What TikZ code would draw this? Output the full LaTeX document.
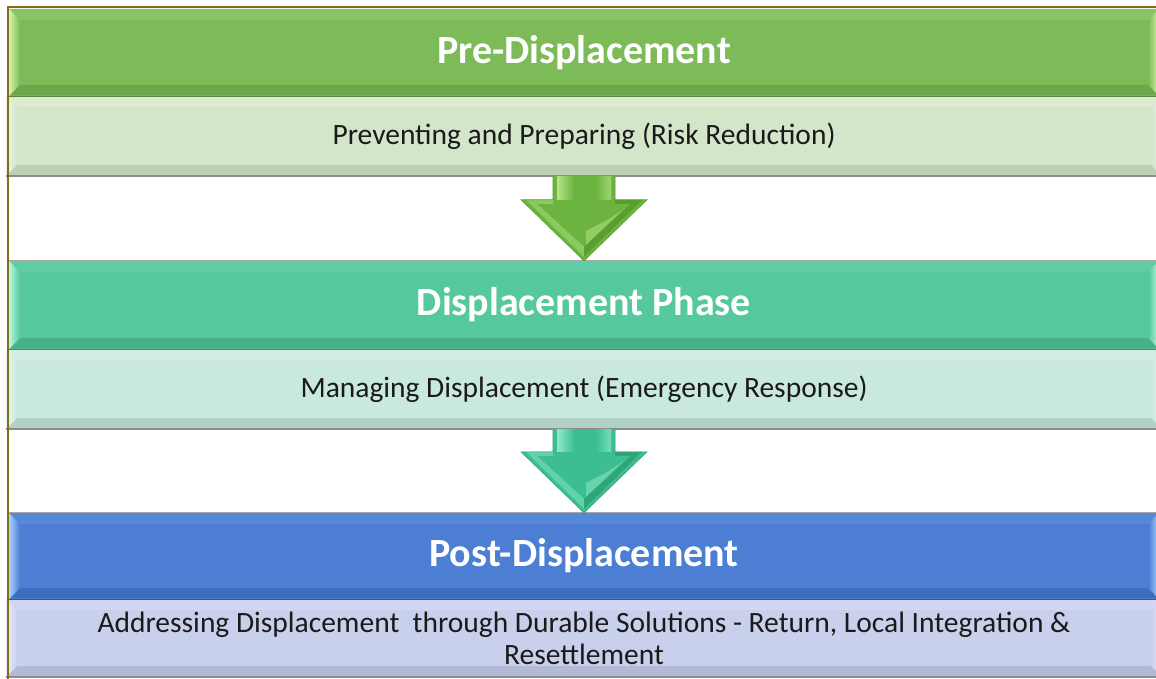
\documentclass[tikz,border=0pt]{standalone}
\usepackage{fontspec}
\setmainfont{Carlito}
\usetikzlibrary{calc}
\definecolor{bordercol}{HTML}{866A1A}
\definecolor{txt}{HTML}{1A1A1A}
% green
\definecolor{gbase}{HTML}{7DBB59}
\definecolor{glight}{HTML}{D6F7A8}
\definecolor{gtop}{HTML}{88C365}
\definecolor{gbot}{HTML}{6BA84B}
\definecolor{gsub}{HTML}{D3E6CA}
\definecolor{gsublight}{HTML}{EEF7E8}
\definecolor{gsubtop}{HTML}{DAEBD2}
\definecolor{gsubbot}{HTML}{BDCFB4}
% teal
\definecolor{tbase}{HTML}{55C99D}
\definecolor{tlight}{HTML}{B8FBE0}
\definecolor{ttop}{HTML}{60CEA5}
\definecolor{tbot}{HTML}{46B088}
\definecolor{tsub}{HTML}{C9E9DF}
\definecolor{tsublight}{HTML}{EAF8F3}
\definecolor{tsubtop}{HTML}{D1EDE4}
\definecolor{tsubbot}{HTML}{B2D1C6}
% blue
\definecolor{bbase}{HTML}{4C7ED4}
\definecolor{blight}{HTML}{A9D4FF}
\definecolor{btop}{HTML}{5789DA}
\definecolor{bbot}{HTML}{3F6DBE}
\definecolor{bsub}{HTML}{C9D0EC}
\definecolor{bsublight}{HTML}{ECF0FB}
\definecolor{bsubtop}{HTML}{D1D7F0}
\definecolor{bsubbot}{HTML}{B3BAD6}
% arrows
\definecolor{gaBase}{HTML}{6DB33F}
\definecolor{gaLight}{HTML}{B4E58A}
\definecolor{gaDark}{HTML}{5A9E30}
\definecolor{taBase}{HTML}{3DBE90}
\definecolor{taLight}{HTML}{8FEACB}
\definecolor{taDark}{HTML}{2FA57A}

\tikzset{
  hdr/.style={rectangle, minimum width=1150pt, minimum height=87pt, inner sep=0pt},
  subbar/.style={rectangle, minimum width=1156pt, minimum height=80pt, inner sep=0pt},
  hdrtext/.style={text=white, font=\fontsize{40}{44}\selectfont\bfseries},
  subtext/.style={text=txt, align=center, font=\fontsize{29.5}{32}\selectfont},
  borderline/.style={draw=bordercol, line width=2pt},
  hdrline/.style={line width=1.2pt},
  subline/.style={draw=black!45, line width=1.5pt}
}

% #1 node, #2 inset, #3 light (left/right), #4 top, #5 bottom, #6 base
\newcommand\bevelbox[6]{%
  \fill[#4] (#1.north west) -- (#1.north east) -- ($(#1.north east)+(-#2,#2)$) -- ($(#1.north west)+(#2,#2)$) -- cycle;
  \fill[#5] (#1.south west) -- (#1.south east) -- ($(#1.south east)+(-#2,-#2)$) -- ($(#1.south west)+(#2,-#2)$) -- cycle;
  \shade[left color=#3, right color=#6] (#1.north west) -- ($(#1.north west)+(#2,#2)$) -- ($(#1.south west)+(#2,-#2)$) -- (#1.south west) -- cycle;
  \shade[left color=#6, right color=#3] (#1.north east) -- ($(#1.north east)+(-#2,#2)$) -- ($(#1.south east)+(-#2,-#2)$) -- (#1.south east) -- cycle;
}

% #1 from node, #2 to node, #3 base, #4 light, #5 dark
\newcommand\flowarrow[5]{%
  \fill[#3] ($(#1.south)+(-31,0)$) -- ($(#1.south)+(31,0)$) -- ($(#2.north)+(31,-61)$)
    -- ($(#2.north)+(63,-61)$) -- (#2.north) -- ($(#2.north)+(-63,-61)$)
    -- ($(#2.north)+(-31,-61)$) -- cycle;
  % shaft highlight
  \shade[left color=#4, right color=#3] ($(#1.south)+(-27,0)$) rectangle ($(#2.north)+(-10,-61)$);
  \shade[left color=#3, right color=#4!70!#3] ($(#1.south)+(12,0)$) rectangle ($(#2.north)+(27,-61)$);
  % head inner chevron
  \fill[#4!45!#3] ($(#2.north)+(-47,-57)$) -- ($(#2.north)+(-31,-57)$) -- ($(#2.north)+(-31,-61)$)
    -- ($(#2.north)+(-58,-61)$) -- ($(#2.north)+(0,-4)$) -- ($(#2.north)+(0,-14)$) -- cycle;
  \fill[#5] ($(#2.north)+(47,-57)$) -- ($(#2.north)+(31,-57)$) -- ($(#2.north)+(31,-61)$)
    -- ($(#2.north)+(58,-61)$) -- ($(#2.north)+(0,-4)$) -- ($(#2.north)+(0,-14)$) -- cycle;
  \fill[#4!50!#3] ($(#2.north)+(22,-40)$) -- ($(#2.north)+(40,-52)$) -- ($(#2.north)+(2,-16)$) -- ($(#2.north)+(2,-30)$) -- cycle;
  \draw[#5, line width=0.6pt] ($(#1.south)+(-31,0)$) -- ($(#2.north)+(-31,-61)$) -- ($(#2.north)+(-63,-61)$) -- (#2.north)
    -- ($(#2.north)+(63,-61)$) -- ($(#2.north)+(31,-61)$) -- ($(#1.south)+(31,0)$);
}

\begin{document}
\begin{tikzpicture}[x=1pt, y=-1pt]
\useasboundingbox[fill=white] (0,0) rectangle (1156,679);

% Stage 1
\node[hdr, fill=gbase] (h1) at (584,52.5) {};
\bevelbox{h1}{11}{glight}{gtop}{gbot}{gbase}
\node[hdrtext] (t1) at (h1.center) {Pre-Displacement};
\node[subbar, fill=gsub] (s1) at (584,136) {};
\bevelbox{s1}{11}{gsublight}{gsubtop}{gsubbot}{gsub}
\node[subtext] (u1) at (s1.center) {Preventing and Preparing (Risk Reduction)};
\draw[hdrline, gbot!80!black] (h1.south west) -- (h1.south east);
\draw[subline] (s1.south west) -- (s1.south east);

% Stage 2
\node[hdr, fill=tbase, minimum height=88pt] (h2) at (584,305) {};
\bevelbox{h2}{11}{tlight}{ttop}{tbot}{tbase}
\node[hdrtext] (t2) at (h2.center) {Displacement Phase};
\node[subbar, fill=tsub] (s2) at (584,389) {};
\bevelbox{s2}{11}{tsublight}{tsubtop}{tsubbot}{tsub}
\node[subtext] (u2) at (s2.center) {Managing Displacement (Emergency Response)};
\draw[hdrline, tbot!80!black] (h2.south west) -- (h2.south east);
\draw[subline] (s2.south west) -- (s2.south east);
\draw[black!35, line width=1pt] (h2.north west) -- (h2.north east);

% Stage 3
\node[hdr, fill=bbase, minimum height=86pt] (h3) at (584,556) {};
\bevelbox{h3}{11}{blight}{btop}{bbot}{bbase}
\node[hdrtext] (t3) at (h3.center) {Post-Displacement};
\node[subbar, fill=bsub, minimum height=78pt] (s3) at (584,638) {};
\bevelbox{s3}{11}{bsublight}{bsubtop}{bsubbot}{bsub}
\node[subtext] (u3) at (s3.center) {Addressing Displacement\ \ through Durable Solutions - Return, Local Integration \&\\Resettlement};
\draw[hdrline, bbot!80!black] (h3.south west) -- (h3.south east);
\draw[subline] (s3.south west) -- (s3.south east);
\draw[black!35, line width=1pt] (h3.north west) -- (h3.north east);

% Arrows
\flowarrow{s1}{h2}{gaBase}{gaLight}{gaDark}
\flowarrow{s2}{h3}{taBase}{taLight}{taDark}

% Border
\coordinate (bl) at (8,679);
\coordinate (tl) at (8,7);
\coordinate (tr) at (1156,7);
\draw[borderline] (bl) -- (tl) -- (tr);
\end{tikzpicture}
\end{document}
